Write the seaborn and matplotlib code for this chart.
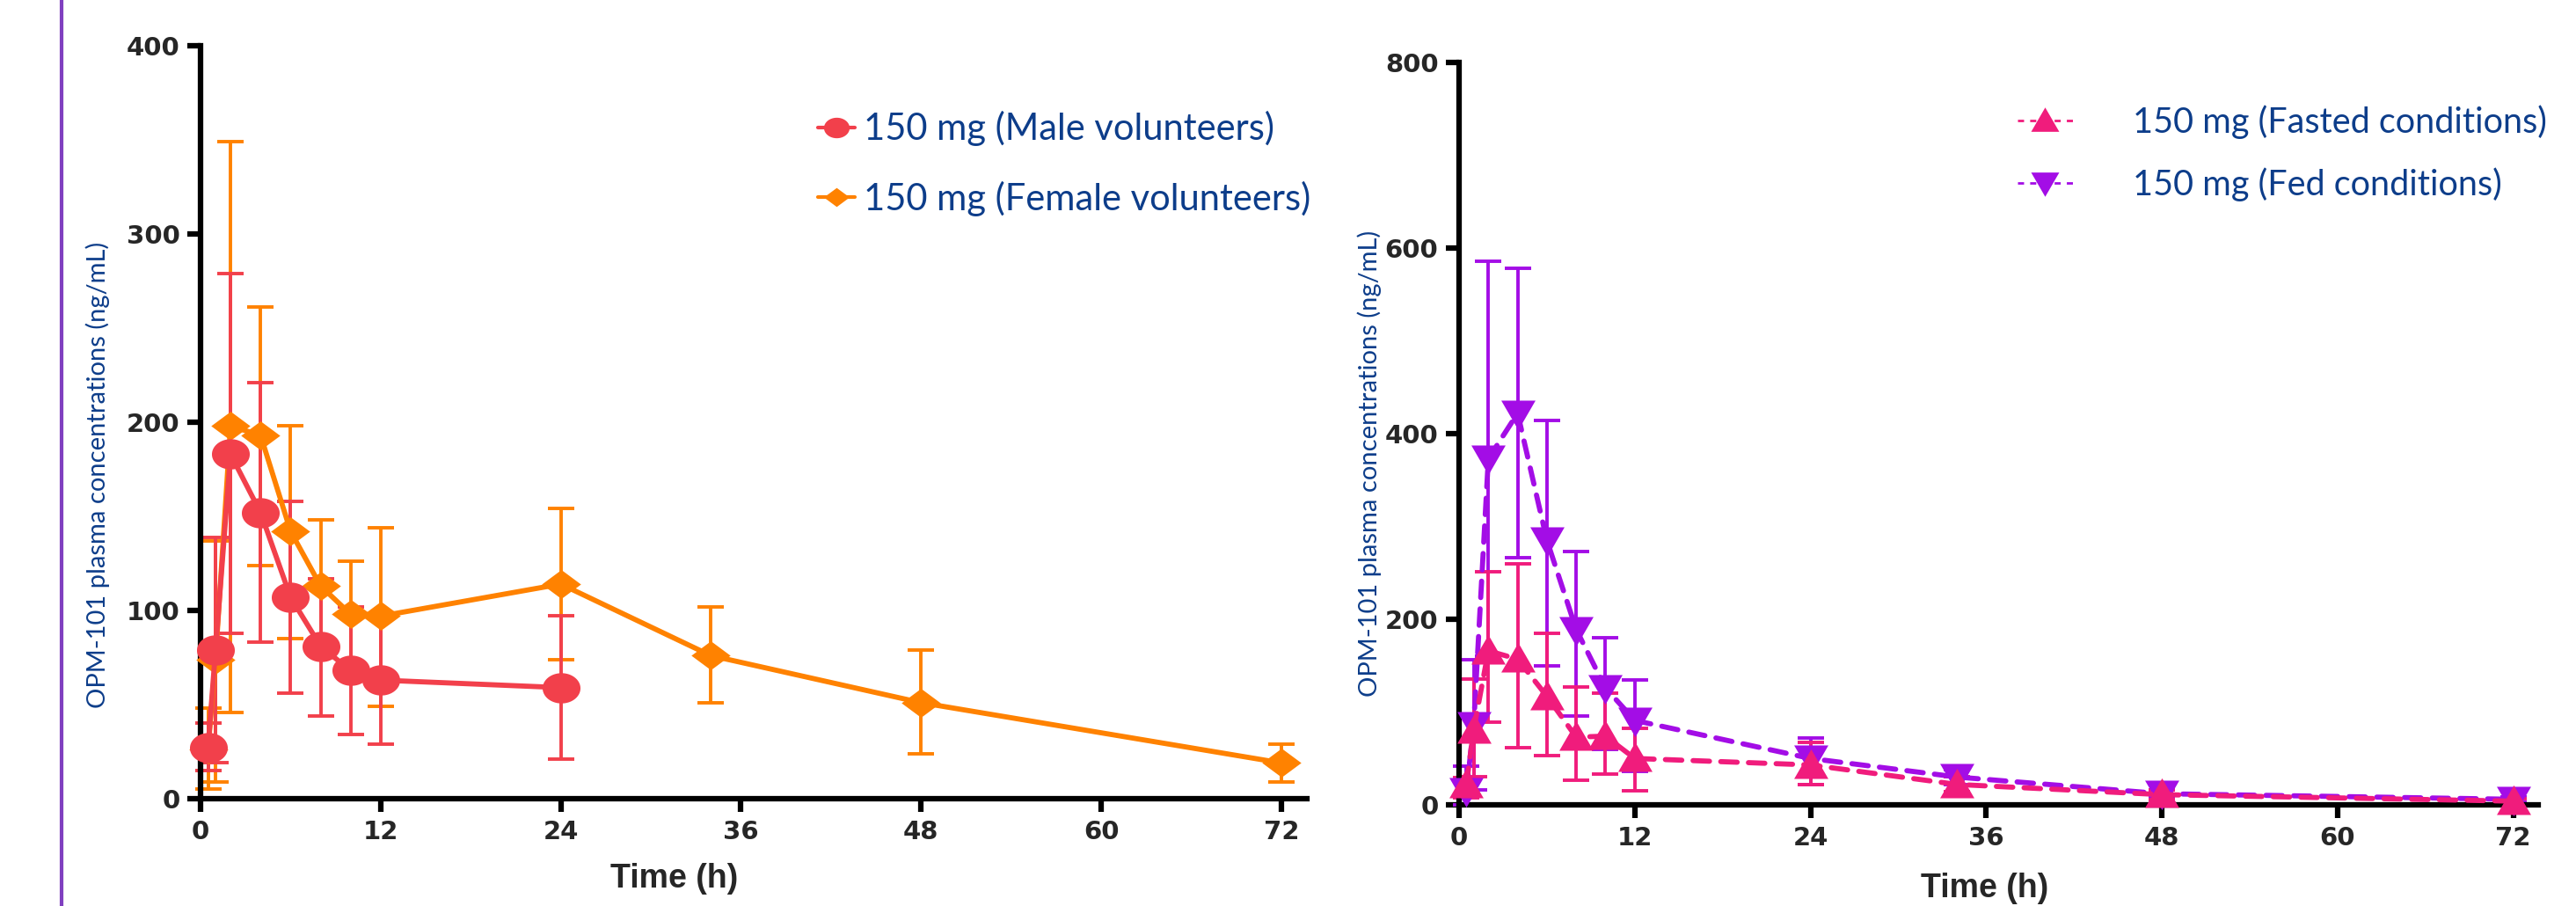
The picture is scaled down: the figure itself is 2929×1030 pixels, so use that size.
import numpy as np
import pandas as pd
import seaborn as sns
import matplotlib
matplotlib.use("Agg")
import matplotlib.pyplot as plt
from matplotlib.lines import Line2D

# ---------------- data ----------------
t_male = [0.5, 1, 2, 4, 6, 8, 10, 12, 24]
male_mean = [27, 79, 183, 152, 107, 81, 68, 63, 59]
male_up = [40, 139, 279, 221, 158, 117, 102, 97, 97]
male_lo = [15, 19, 88, 83, 56, 44, 34, 29, 21]

t_female = [0.5, 1, 2, 4, 6, 8, 10, 12, 24, 34, 48, 72]
female_mean = [26, 74, 198, 193, 142, 113, 98, 97, 114, 76, 51, 19]
female_up = [48, 137, 349, 261, 198, 148, 126, 144, 154, 102, 79, 29]
female_lo = [5, 9, 46, 124, 85, 78, 70, 49, 74, 51, 24, 9]

t_food = [0.5, 1, 2, 4, 6, 8, 10, 12, 24, 34, 48, 72]
fasted_mean = [22, 81, 166, 157, 117, 73, 74, 50, 43, 22, 11, 4]
fasted_up = [29, 136, 251, 260, 185, 127, 120, 82, 67, 30, 16, 7]
fasted_lo = [8, 30, 89, 62, 53, 27, 33, 15, 22, 14, 6, 1]

fed_mean = [15, 86, 373, 422, 285, 189, 126, 91, 50, 30, 12, 6]
fed_up = [42, 156, 586, 578, 414, 273, 180, 135, 72, 38, 16, 9]
fed_lo = [0, 16, 160, 266, 150, 96, 60, 36, 22, 22, 8, 3]

x_ticks = [0, 12, 24, 36, 48, 60, 72]
left_yticks = [0, 100, 200, 300, 400]
right_yticks = [0, 200, 400, 600, 800]

lab_male = "150 mg (Male volunteers)"
lab_female = "150 mg (Female volunteers)"
lab_fasted = "150 mg (Fasted conditions)"
lab_fed = "150 mg (Fed conditions)"
ylab = "OPM-101 plasma concentrations (ng/mL)"
xlab = "Time (h)"

# ---------------- style ----------------
sns.set_style("ticks")
plt.rcParams['font.family'] = ['DejaVu Sans']

C_RED = "#F2404B"
C_ORANGE = "#FF8200"
C_PINK = "#F01C7C"
C_PURPLE = "#A30DE6"
C_TEXT = "#0D3D8A"

# slightly wide (stretched) marker shapes, as in the reference
th = np.linspace(0, 2 * np.pi, 60)
M_ELLIPSE = list(zip(1.25 * np.cos(th), np.sin(th)))
M_DIAMOND = [(0, 1), (1.35, 0), (0, -1), (-1.35, 0), (0, 1)]
M_UP = [(-1.1, -0.85), (1.1, -0.85), (0, 1.05), (-1.1, -0.85)]
M_DOWN = [(-1.1, 0.85), (1.1, 0.85), (0, -1.05), (-1.1, 0.85)]

W, H = 2929, 1030
fig = plt.figure(figsize=(W / 100, H / 100), dpi=100)

axL = fig.add_axes([228 / W, 1 - 908 / H, (1486 - 228) / W, (908 - 52) / H])
axR = fig.add_axes([1659 / W, 1 - 915 / H, (2886 - 1659) / W, (915 - 71) / H])

def draw_series(ax, t, mean, lo, up, color, marker, ms, label, dashes=None):
    mean = np.asarray(mean, float)
    yerr = np.vstack([mean - np.asarray(lo, float), np.asarray(up, float) - mean])
    ax.errorbar(t, mean, yerr=yerr, fmt='none', ecolor=color, elinewidth=2.8,
                capsize=11, capthick=2.8, clip_on=False, zorder=2)
    df = pd.DataFrame({"t": t, "c": mean})
    sns.lineplot(x="t", y="c", data=df, ax=ax, color=color, marker=marker,
                 markersize=ms, markeredgewidth=0, linewidth=4.2, clip_on=False,
                 zorder=3, label=label, legend=False)
    line = ax.get_lines()[-1]
    if dashes is not None:
        line.set_dashes(dashes)
        line.set_dash_capstyle('round')
    return line

# left panel: orange first, red on top
draw_series(axL, t_female, female_mean, female_lo, female_up, C_ORANGE, M_DIAMOND, 32, lab_female)
draw_series(axL, t_male, male_mean, male_lo, male_up, C_RED, M_ELLIPSE, 31, lab_male)

# right panel: purple first, pink on top
draw_series(axR, t_food, fed_mean, fed_lo, fed_up, C_PURPLE, M_DOWN, 28, lab_fed, dashes=(3.2, 2.2))
draw_series(axR, t_food, fasted_mean, fasted_lo, fasted_up, C_PINK, M_UP, 28, lab_fasted, dashes=(3.2, 2.2))

for ax, yt, ymax in [(axL, left_yticks, 400), (axR, right_yticks, 800)]:
    ax.set_xlim(0, 73.7)
    ax.set_ylim(0, ymax)
    ax.set_xticks(x_ticks)
    ax.set_yticks(yt)
    ax.set_xticklabels([str(v) for v in x_ticks], fontsize=21, fontweight='bold')
    ax.set_yticklabels([str(v) for v in yt], fontsize=21, fontweight='bold')
    for s in ['top', 'right']:
        ax.spines[s].set_visible(False)
    for s in ['left', 'bottom']:
        ax.spines[s].set_linewidth(4.5)
        ax.spines[s].set_color('black')
        ax.spines[s].set_capstyle('projecting')
    ax.tick_params(axis='both', width=4.5, length=11, color='black', pad=6)
    ax.set_facecolor('white')
    ax.set_xlabel(xlab, fontsize=27, fontweight='bold', family=['Liberation Sans', 'DejaVu Sans'])
    ax.set_ylabel(ylab, fontsize=21, color=C_TEXT, family=['Lato', 'DejaVu Sans'])

axL.xaxis.set_label_coords(0.428, -0.085)
axR.xaxis.set_label_coords(0.487, -0.091)
axL.yaxis.set_label_coords(-0.082, 0.43)
axR.yaxis.set_label_coords(-0.072, 0.46)

# legends
hL = [Line2D([0], [0], color=C_RED, marker=M_ELLIPSE, markersize=21, lw=3, markeredgewidth=0),
      Line2D([0], [0], color=C_ORANGE, marker=M_DIAMOND, markersize=21, lw=3, markeredgewidth=0)]
legL = fig.legend(hL, [lab_male, lab_female], loc='upper left',
                  bbox_to_anchor=(930 / W, 1 - 126 / H), frameon=False,
                  prop={'family': ['Lato', 'DejaVu Sans'], 'size': 30},
                  handlelength=1.0, handletextpad=0.24, labelspacing=0.95,
                  borderpad=0, borderaxespad=0)
for tx in legL.get_texts():
    tx.set_color(C_TEXT)

hR = [Line2D([0], [0], color=C_PINK, marker=M_UP, markersize=23, lw=2, ls=(0, (2.5, 2.5)), markeredgewidth=0),
      Line2D([0], [0], color=C_PURPLE, marker=M_DOWN, markersize=23, lw=2, ls=(0, (2.5, 2.5)), markeredgewidth=0)]
legR = fig.legend(hR, [lab_fasted, lab_fed], loc='upper left',
                  bbox_to_anchor=(2294 / W, 1 - 119 / H), frameon=False,
                  prop={'family': ['Lato', 'DejaVu Sans'], 'size': 28.5},
                  handlelength=1.58, handletextpad=1.72, labelspacing=0.82,
                  borderpad=0, borderaxespad=0)
for tx in legR.get_texts():
    tx.set_color(C_TEXT)

# purple vertical rule at the far left
fig.add_artist(Line2D([70 / W, 70 / W], [0, 1], color="#8040C0", lw=3, transform=fig.transFigure))

fig.savefig("out.png", dpi=100, facecolor='white')
